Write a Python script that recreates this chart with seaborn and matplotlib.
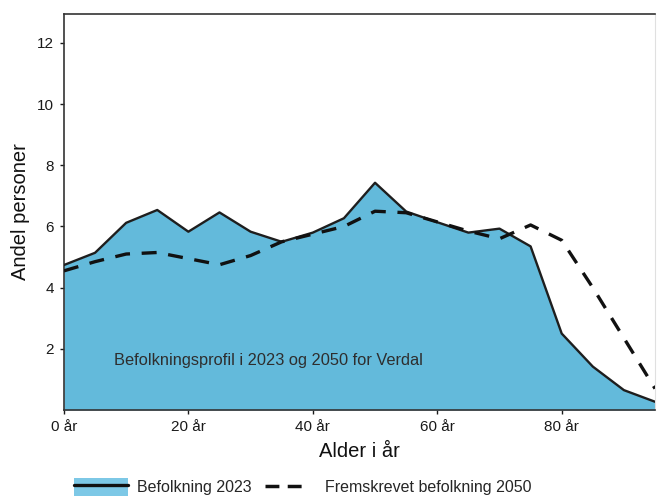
import matplotlib
matplotlib.use("Agg")
import matplotlib.pyplot as plt
import seaborn as sns
import pandas as pd
from matplotlib.patches import Patch
from matplotlib.lines import Line2D

ages = [0, 5, 10, 15, 20, 25, 30, 35, 40, 45, 50, 55, 60, 65, 70, 75, 80, 85, 90, 95]
pop_2023 = [4.74, 5.14, 6.12, 6.54, 5.83, 6.46, 5.83, 5.5, 5.8, 6.27, 7.43, 6.49, 6.14, 5.8, 5.93, 5.35, 2.5, 1.42, 0.65, 0.27]
pop_2050 = [4.55, 4.85, 5.1, 5.15, 4.95, 4.75, 5.05, 5.5, 5.75, 6.0, 6.5, 6.45, 6.15, 5.85, 5.6, 6.05, 5.55, 4.0, 2.35, 0.7]
x_ticks = [0, 20, 40, 60, 80]
x_tick_labels = ["0 år", "20 år", "40 år", "60 år", "80 år"]
y_ticks = [2, 4, 6, 8, 10, 12]

sns.set_style("white")
plt.rcParams["font.family"] = ["Liberation Sans", "DejaVu Sans"]

df = pd.DataFrame({"age": ages, "p2023": pop_2023, "p2050": pop_2050})

fig = plt.figure(figsize=(6.59, 4.97), dpi=100)
ax = fig.add_axes([0.097, 0.175, 0.897, 0.797])

fill_color = "#63BADB"
ax.fill_between(df["age"], 0, df["p2023"], color=fill_color, lw=0, zorder=1)
sns.lineplot(data=df, x="age", y="p2023", ax=ax, color="#1e1e1e", lw=1.7, zorder=3)
sns.lineplot(data=df, x="age", y="p2050", ax=ax, color="#111111", lw=2.4, zorder=4,
             dashes=False, linestyle=(0, (4.5, 3.5)))

ax.set_xlim(0, 95)
ax.set_ylim(0, 12.95)
ax.set_xticks(x_ticks)
ax.set_xticklabels(x_tick_labels)
ax.set_yticks(y_ticks)
ax.tick_params(axis="both", labelsize=11, length=3, width=1, direction="out",
               left=True, bottom=True, colors="#1a1a1a", pad=4)
ax.set_xlabel("Alder i år", fontsize=14.5, labelpad=6, color="#111111")
ax.set_ylabel("Andel personer", fontsize=14.5, labelpad=5, color="#111111")

for s in ["left", "top", "bottom"]:
    ax.spines[s].set_color("#333333")
    ax.spines[s].set_linewidth(1.2)
ax.spines["right"].set_color("#e0e0e0")
ax.spines["right"].set_linewidth(0.8)

ax.text(8.1, 1.63, "Befolkningsprofil i 2023 og 2050 for Verdal", fontsize=11.8,
        color="#2e2e2e", va="center", ha="left", zorder=5)

h1 = (Patch(facecolor="#7DC8E6", edgecolor="none"),
      Line2D([], [], color="#111111", lw=2.4))
leg1 = fig.legend([h1], ["Befolkning 2023"], loc="center left",
                  bbox_to_anchor=(0.112, 0.02), frameon=False, fontsize=11.5,
                  handlelength=3.4, handleheight=1.3, handletextpad=0.55,
                  borderaxespad=0, borderpad=0)
h2 = Line2D([], [], color="#111111", lw=2.5, linestyle=(0, (4, 2.4)))
leg2 = fig.legend([h2], ["Fremskrevet befolkning 2050"], loc="center left",
                  bbox_to_anchor=(0.402, 0.02), frameon=False, fontsize=11.5,
                  handlelength=2.3, handletextpad=1.45, borderaxespad=0, borderpad=0)

fig.savefig("out.png", dpi=100)
